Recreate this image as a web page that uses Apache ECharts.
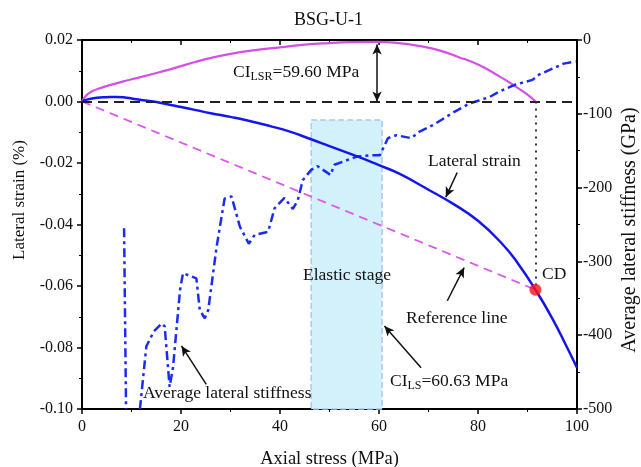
<!DOCTYPE html>
<html>
<head>
<meta charset="utf-8">
<script src="https://cdn.jsdelivr.net/npm/echarts@6/dist/echarts.min.js"></script>
<style>
  html, body { margin: 0; padding: 0; background: #fff; overflow: hidden; }
  #chart { width: 641px; height: 467px; }
</style>
</head>
<body>
<div id="chart"></div>
<script>
// 横向应变 (axial stress, lateral strain)
const lateralStrain = [
  [0, 0], [1, 0.0006], [3, 0.0012], [5, 0.0014], [7, 0.0015], [9, 0.0012],
  [11, 0.0007], [14, 0.0001], [17, -0.0008], [20, -0.0018], [23, -0.0028],
  [26, -0.0038], [30, -0.005], [33, -0.006], [38, -0.008], [42, -0.0098],
  [46, -0.0121], [50, -0.0145], [56, -0.0181], [60, -0.0207], [64, -0.0234],
  [70, -0.0287], [75, -0.0333], [80, -0.0388], [85, -0.0465], [88, -0.0525],
  [91.6, -0.0612], [95, -0.0705], [98, -0.08], [100, -0.0866]
];

// 相对横向应变 CI_LSR 曲线
const relStrain = [
  [0, 0], [1, 0.0022], [2, 0.0033], [4, 0.0045], [6, 0.0055], [8, 0.0064],
  [12, 0.008], [16, 0.0097], [20, 0.0115], [25, 0.0138], [30, 0.0155],
  [35, 0.0167], [40, 0.0176], [45, 0.0185], [50, 0.019], [55, 0.0193],
  [59.6, 0.0194], [64, 0.019], [68, 0.0181], [72, 0.0167], [76, 0.0145],
  [80, 0.012], [84, 0.0085], [87, 0.0055], [90, 0.0022], [91.6, 0]
];

// 参考线
const refLine = [[0, 0], [91.6, -0.0612]];
const cdPoint = [[91.6, -0.0612]];

// 平均横向刚度 (GPa)
const stiffness = [
  [8.5, -255], [8.9, -500], null, [11.7, -500], [13, -415], [14.5, -395],
  [16.1, -384], [16.7, -388], [17.7, -470], [18.4, -443], [19.8, -339],
  [20.4, -316], [23.1, -323], [23.8, -366], [24.8, -377], [25.5, -366],
  [27.2, -280], [28.8, -215], [30.2, -212], [31.9, -253], [33.7, -276],
  [34.9, -264], [37.6, -260], [38.9, -228], [40.9, -214], [42.6, -229],
  [43.6, -217], [44.6, -190], [46.3, -176], [47.6, -171], [49.6, -180],
  [50.2, -183], [51, -169], [55.5, -158], [58.5, -156], [60.2, -156],
  [61.8, -133], [63.5, -129], [66.5, -133], [68.2, -124], [71, -115],
  [74.8, -99], [78.3, -86], [80.2, -82], [82.4, -77], [84.3, -70],
  [87.3, -61], [91, -54], [92.3, -47], [97.3, -32], [99.7, -29]
];

// 弹性阶段
const elasticStage = { from: 46.3, to: 60.63, top: -0.006, bottom: -0.1 };
const ciLSR = 59.6;

// 箭头 [起点, 终点]
const arrows = [
  [[75.8, -0.0231], [73.5, -0.0311]],
  [[73.8, -0.0648], [77.2, -0.054]],
  [[68.5, -0.0866], [61.1, -0.073]],
  [[25.1, -0.092], [20.1, -0.0795]]
];

const FONT = "Liberation Serif";
const myChart = echarts.init(document.querySelector("#chart"));

const txt = (x, y, text, extra) => ({
  type: "text",
  left: x,
  top: y,
  z: 100,
  style: Object.assign({
    text: text,
    font: "17.5px " + FONT,
    fill: "#111",
    rich: {
      m: { fontFamily: FONT, fontSize: 17.5, color: "#111" },
      s: { fontFamily: FONT, fontSize: 12, color: "#111", padding: [9, 0, 0, 0] },
    },
  }, extra || {}),
});

const vtxt = (cx, cy, text, size) => ({
  type: "text",
  x: cx,
  y: cy,
  rotation: Math.PI / 2,
  z: 100,
  style: {
    text: text,
    font: size + "px " + FONT,
    fill: "#111",
    align: "center",
    verticalAlign: "middle",
  },
});

const option = {
  animation: false,
  grid: { left: 82, right: 64, top: 40, bottom: 58, outerBoundsMode: "none" },
  xAxis: [
    {
      type: "value",
      min: 0,
      max: 100,
      interval: 20,
      name: "Axial stress (MPa)",
      nameLocation: "middle",
      nameGap: 41,
      nameTextStyle: { fontFamily: FONT, fontSize: 18.5, color: "#111" },
      axisLine: { onZero: false, lineStyle: { color: "#000", width: 2 } },
      axisTick: { length: 5, lineStyle: { color: "#000", width: 1.5 } },
      minorTick: { show: true, splitNumber: 2, length: 3, lineStyle: { color: "#000" } },
      axisLabel: { fontFamily: FONT, fontSize: 16, color: "#111", margin: 10 },
      splitLine: { show: false },
    },
    {
      type: "value",
      position: "top",
      min: 0,
      max: 100,
      interval: 20,
      axisLine: { onZero: false, lineStyle: { color: "#000", width: 2 } },
      axisTick: { inside: true, length: 5, lineStyle: { color: "#000", width: 1.5 } },
      minorTick: { show: true, splitNumber: 2, length: 3, lineStyle: { color: "#000" } },
      axisLabel: { show: false },
      splitLine: { show: false },
    },
  ],
  yAxis: [
    {
      type: "value",
      min: -0.1,
      max: 0.02,
      interval: 0.02,
      axisLine: { onZero: false, lineStyle: { color: "#000", width: 2 } },
      axisTick: { length: 5, lineStyle: { color: "#000", width: 1.5 } },
      minorTick: { show: true, splitNumber: 2, length: 3, lineStyle: { color: "#000" } },
      axisLabel: {
        fontFamily: FONT, fontSize: 16, color: "#111", margin: 9,
        formatter: (v) => v.toFixed(2),
      },
      splitLine: { show: false },
    },
    {
      type: "value",
      min: -500,
      max: 0,
      interval: 100,
      axisLine: { onZero: false, lineStyle: { color: "#000", width: 2 } },
      axisTick: { length: 5, lineStyle: { color: "#000", width: 1.5 } },
      minorTick: { show: true, splitNumber: 2, length: 3, lineStyle: { color: "#000" } },
      axisLabel: { fontFamily: FONT, fontSize: 16, color: "#111", margin: 6 },
      splitLine: { show: false },
    },
  ],
  series: [
    // 弹性阶段区域
    {
      type: "line",
      data: [],
      markArea: {
        silent: true,
        itemStyle: {
          color: "#d3f1fb",
          borderColor: "#a9c9f3",
          borderWidth: 1.5,
          borderType: "dashed",
        },
        data: [[
          { coord: [elasticStage.from, elasticStage.top] },
          { coord: [elasticStage.to, elasticStage.bottom] },
        ]],
      },
    },
    // 零线 & CD 竖线 & 箭头
    {
      type: "line",
      data: [],
      markLine: {
        silent: true,
        label: { show: false },
        data: [
          [
            { coord: [0, 0], symbol: "none", lineStyle: { color: "#222", width: 2, type: [10, 6] } },
            { coord: [100, 0], symbol: "none" },
          ],
          [
            { coord: [cdPoint[0][0], 0], symbol: "none", lineStyle: { color: "#333", width: 2, type: [2, 5] } },
            { coord: cdPoint[0], symbol: "none" },
          ],
          [
            { coord: [ciLSR, 0], symbol: "arrow", symbolSize: [7, 10], lineStyle: { color: "#111", width: 1.5, type: "solid" } },
            { coord: [ciLSR, 0.0185], symbol: "arrow", symbolSize: [7, 10] },
          ],
        ].concat(arrows.map(([a, b]) => [
          { coord: a, symbol: "none", lineStyle: { color: "#111", width: 1.5, type: "solid" } },
          { coord: b, symbol: "arrow", symbolSize: [7, 10] },
        ])),
      },
    },
    {
      name: "Reference line",
      type: "line",
      data: refLine,
      showSymbol: false,
      lineStyle: { color: "#dd55ee", width: 1.8, type: [9, 6] },
    },
    {
      name: "CI_LSR",
      type: "line",
      data: relStrain,
      smooth: true,
      showSymbol: false,
      lineStyle: { color: "#d44fe6", width: 2.2 },
    },
    {
      name: "Average lateral stiffness",
      type: "line",
      yAxisIndex: 1,
      data: stiffness,
      connectNulls: false,
      showSymbol: false,
      lineStyle: { color: "#1a2cf0", width: 2.5, type: [9, 4, 3, 4] },
    },
    {
      name: "Lateral strain",
      type: "line",
      data: lateralStrain,
      smooth: true,
      showSymbol: false,
      lineStyle: { color: "#1515ee", width: 2.5 },
    },
    {
      name: "CD",
      type: "scatter",
      data: cdPoint,
      symbolSize: 12,
      itemStyle: { color: "#ff1111" },
      z: 5,
    },
  ],
  graphic: [
    txt(294, 11, "BSG-U-1", { font: "18px " + FONT }),
    txt(233, 63, "{m|CI}{s|LSR}{m|=59.60 MPa}"),
    txt(428, 152, "Lateral strain"),
    txt(303, 266, "Elastic stage"),
    txt(406, 309, "Reference line"),
    txt(390, 372, "{m|CI}{s|LS}{m|=60.63 MPa}"),
    txt(143, 384, "Average lateral stiffness"),
    txt(542, 265, "CD"),
    vtxt(20, 200, "Lateral strain (%)", 17),
    vtxt(630, 230, "Average lateral stiffness (GPa)", 20),
  ],
};

myChart.setOption(option);
</script>
</body>
</html>
